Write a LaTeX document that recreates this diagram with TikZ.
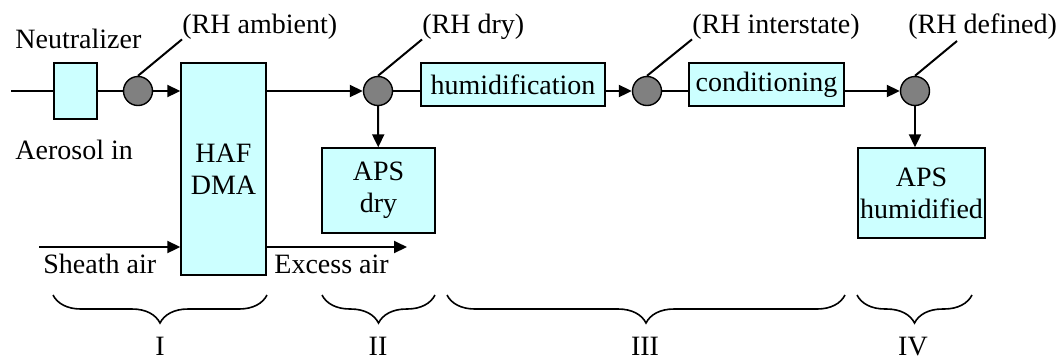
\documentclass[tikz,border=0pt]{standalone}
\usepackage{fontspec}
\setmainfont{Liberation Serif}
\usepackage{tikz}
\usetikzlibrary{arrows.meta,decorations.pathreplacing,positioning}
\definecolor{boxcyan}{HTML}{CCFFFF}
\definecolor{probegray}{HTML}{808080}

\begin{document}
\begin{tikzpicture}[
  x=0.5pt, y=-0.5pt,
  font=\fontsize{14}{16}\selectfont,
  box/.style={draw, line width=0.7pt, fill=boxcyan, inner sep=0pt, align=center},
  probe/.style={circle, draw, line width=0.7pt, fill=probegray, inner sep=0pt, minimum size=14.5pt},
  txt/.style={inner sep=0pt, anchor=base west},
  flow/.style={line width=1pt},
  arrow/.style={flow, -{Triangle[length=6.5pt,width=6pt]}},
  brace/.style={line width=0.8pt, decorate, decoration={brace, mirror, amplitude=14pt}}
]
\useasboundingbox (0,0) rectangle (1059,361);

% Stage I: neutralizer and DMA
\coordinate (ain) at (11,91);
\node[box, minimum width=21.5pt, minimum height=28pt] (neut) at (75.5,91) {};
\node[probe] (rh1) at (138,91) {};
\node[box, minimum width=42.5pt, minimum height=106pt] (haf) at (223.5,169) {HAF\\DMA};
\coordinate (sheath) at (39,247);
\coordinate (excess) at (407,247);

\node[txt] (neutlbl) at (15,48) {Neutralizer};
\node[txt] (ainlbl) at (15,159) {Aerosol in};
\node[txt] (sheathlbl) at (43,273) {Sheath air};
\node[txt] (excesslbl) at (274,273) {Excess air};
\node[txt] (lblamb) at (182,33) {(RH ambient)};

% Stage II: dry APS
\node[probe] (rh2) at (378,91) {};
\node[box, minimum width=56.5pt, minimum height=42.5pt] (apsdry) at (378.5,190.5) {APS\\dry};
\node[txt] (lbldry) at (422,33) {(RH dry)};

% Stage III: humidification and conditioning
\node[box, minimum width=92pt, minimum height=21.5pt] (humid) at (513,84.5) {humidification};
\node[probe] (rh3) at (647,91) {};
\node[box, minimum width=77.5pt, minimum height=21.5pt] (cond) at (766.5,84.5) {conditioning};
\node[txt] (lblint) at (692,33) {(RH interstate)};

% Stage IV: humidified APS
\node[probe] (rh4) at (915,91) {};
\node[box, minimum width=63.5pt, minimum height=45pt] (apshum) at (921.5,193) {APS\\humidified};
\node[txt] (lbldef) at (908,33) {(RH defined)};
\coordinate (defend) at (957,41);

% flow lines
\draw[flow] (ain) -- (neut);
\draw[flow] (neut) -- (rh1);
\draw[arrow] (rh1) -- (rh1 -| haf.west);
\draw[arrow] (sheath) -- (sheath -| haf.west);
\draw[arrow] (excess -| haf.east) -- (excess);
\draw[arrow] (haf.east |- rh2) -- (rh2);
\draw[arrow] (rh2) -- (apsdry);
\draw[flow] (rh2) -- (rh2 -| humid.west);
\draw[arrow] (humid.east |- rh3) -- (rh3);
\draw[flow] (rh3) -- (rh3 -| cond.west);
\draw[arrow] (cond.east |- rh4) -- (rh4);
\draw[arrow] (rh4) -- (rh4 |- apshum.north);

% probe leaders
\draw[flow] (rh1.north) -- (lblamb.south west);
\draw[flow] (rh2.north) -- (lbldry.south west);
\draw[flow] (rh3.north) -- (lblint.south west);
\draw[flow] (rh4.north) -- (defend);

% stage braces
\draw[brace] (53,295) -- (267,295);
\draw[brace] (322,295) -- (435,295);
\draw[brace] (447,295) -- (845,295);
\draw[brace] (857,295) -- (972,295);
\node[inner sep=0pt, anchor=base] (st1) at (160,355) {I};
\node[inner sep=0pt, anchor=base] (st2) at (378,355) {II};
\node[inner sep=0pt, anchor=base] (st3) at (645,355) {III};
\node[inner sep=0pt, anchor=base] (st4) at (913,355) {IV};

\end{tikzpicture}
\end{document}
